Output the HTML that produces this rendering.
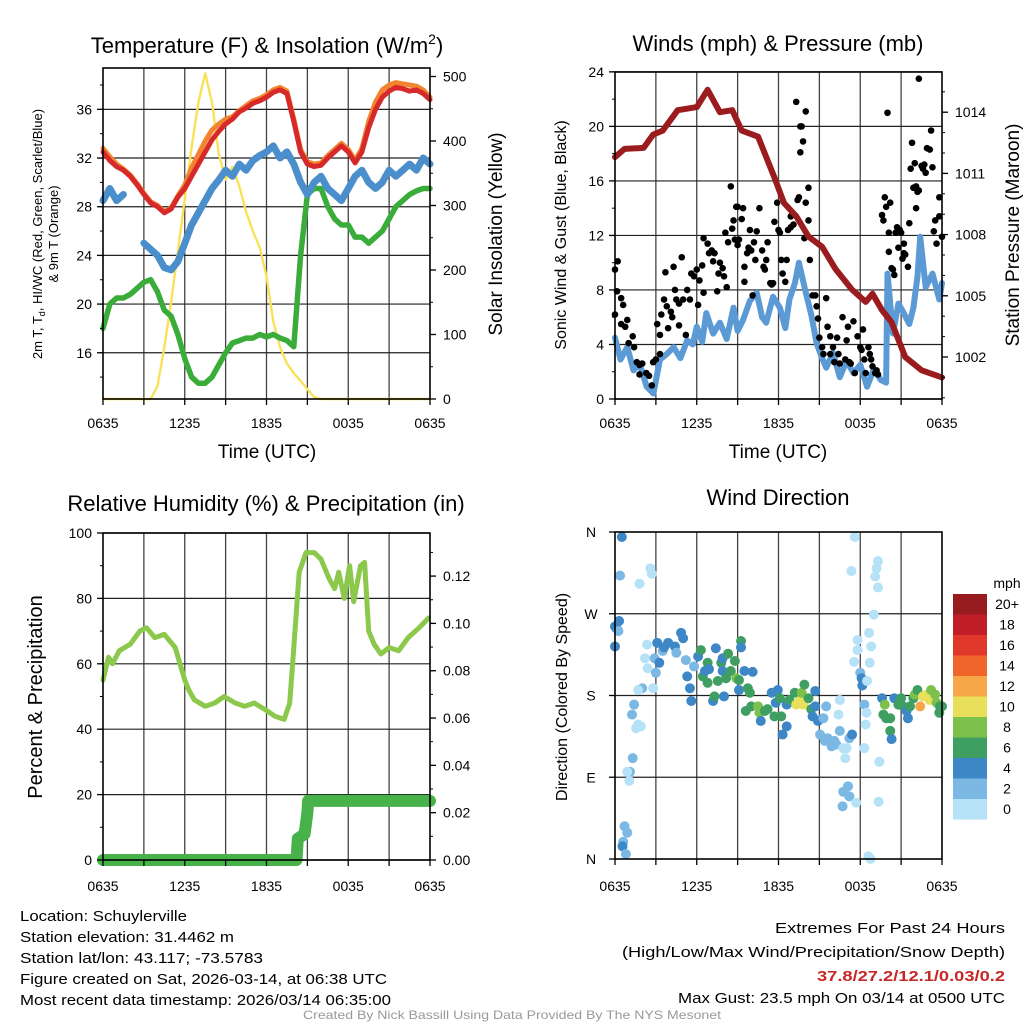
<!DOCTYPE html>
<html><head><meta charset="utf-8"><style>
html,body{margin:0;padding:0;background:#fff;}
svg{display:block;font-family:"Liberation Sans",Arial,sans-serif;}
</style></head><body>
<svg id="chart" width="1024" height="1024" viewBox="0 0 1024 1024" xmlns="http://www.w3.org/2000/svg">
<rect width="1024" height="1024" fill="#fff"/>
<g id="layer-grid"></g><g id="layer-data"></g><g id="layer-axes"></g>
<text x="267" y="53" font-size="22" text-anchor="middle">Temperature (F) &amp; Insolation (W/m<tspan font-size="14" dy="-9">2</tspan><tspan dy="9">)</tspan></text>
<text x="778" y="51" font-size="22" text-anchor="middle">Winds (mph) &amp; Pressure (mb)</text>
<text x="266" y="511" font-size="22" text-anchor="middle">Relative Humidity (%) &amp; Precipitation (in)</text>
<text x="778" y="505" font-size="22" text-anchor="middle">Wind Direction</text>
<text x="267" y="458" font-size="19" text-anchor="middle">Time (UTC)</text>
<text x="778" y="458" font-size="19" text-anchor="middle">Time (UTC)</text>
<text transform="translate(42,234) rotate(-90)" font-size="13" text-anchor="middle">2m T, T<tspan font-size="9" dy="3">d</tspan><tspan dy="-3">, HI/WC (Red, Green, Scarlet/Blue)</tspan></text>
<text transform="translate(58,234) rotate(-90)" font-size="13" text-anchor="middle">&amp; 9m T (Orange)</text>
<text transform="translate(502,234) rotate(-90)" font-size="19" text-anchor="middle">Solar Insolation (Yellow)</text>
<text transform="translate(566,235) rotate(-90)" font-size="16" text-anchor="middle">Sonic Wind &amp; Gust (Blue, Black)</text>
<text transform="translate(1019,235) rotate(-90)" font-size="19" text-anchor="middle">Station Pressure (Maroon)</text>
<text transform="translate(42,697) rotate(-90)" font-size="20" text-anchor="middle">Percent &amp; Precipitation</text>
<text transform="translate(567,697) rotate(-90)" font-size="16" text-anchor="middle">Direction (Colored By Speed)</text>
<text x="1007" y="588" font-size="14" text-anchor="middle">mph</text>
<g font-size="15">
<text x="20" y="921" textLength="167" lengthAdjust="spacingAndGlyphs">Location: Schuylerville</text>
<text x="20" y="942" textLength="214" lengthAdjust="spacingAndGlyphs">Station elevation: 31.4462 m</text>
<text x="20" y="963" textLength="243" lengthAdjust="spacingAndGlyphs">Station lat/lon: 43.117; -73.5783</text>
<text x="20" y="984" textLength="367" lengthAdjust="spacingAndGlyphs">Figure created on Sat, 2026-03-14, at 06:38 UTC</text>
<text x="20" y="1005" textLength="371" lengthAdjust="spacingAndGlyphs">Most recent data timestamp: 2026/03/14 06:35:00</text>
</g>
<g font-size="15" text-anchor="end">
<text x="1005" y="933" textLength="230" lengthAdjust="spacingAndGlyphs">Extremes For Past 24 Hours</text>
<text x="1005" y="957" textLength="383" lengthAdjust="spacingAndGlyphs">(High/Low/Max Wind/Precipitation/Snow Depth)</text>
<text x="1005" y="981" fill="#c62828" font-weight="bold" textLength="188" lengthAdjust="spacingAndGlyphs">37.8/27.2/12.1/0.03/0.2</text>
<text x="1005" y="1003" textLength="327" lengthAdjust="spacingAndGlyphs">Max Gust: 23.5 mph On 03/14 at 0500 UTC</text>
</g>
<text x="512" y="1019" font-size="12" fill="#999" text-anchor="middle" textLength="418" lengthAdjust="spacingAndGlyphs">Created By Nick Bassill Using Data Provided By The NYS Mesonet</text>
</svg>
<script>
// ===== DATA =====
const halfHours = [0,0.5,1,1.5,2,2.5,3,3.5,4,4.5,5,5.5,6,6.5,7,7.5,8,8.5,9,9.5,10,10.5,11,11.5,12,12.5,13,13.5,14,14.5,15,15.5,16,16.5,17,17.5,18,18.5,19,19.5,20,20.5,21,21.5,22,22.5,23,23.5,24];
const tempRed = [32.5,31.8,31.3,31,30.5,29.8,29,28.3,28,27.5,27.8,28.8,29.5,30.5,31.5,32.5,33.5,34.2,34.8,35.2,35.8,36.1,36.5,36.7,37,37.4,37.6,37.3,35,32.5,31.5,31.3,31.4,32,32.5,33,32.5,31.6,32.5,34.5,36,37,37.5,37.8,37.7,37.5,37.6,37.3,36.8];
const temp9mOrange = [32.8,32.1,31.5,31.1,30.6,29.9,29.1,28.4,28.1,27.6,27.9,28.9,29.8,31.2,32.3,33.4,34.3,34.8,35.2,35.4,35.9,36.3,36.7,36.9,37.2,37.6,37.8,37.5,35.2,32.7,31.7,31.5,31.6,32.2,32.7,33.2,32.7,31.8,32.8,35,36.6,37.6,38,38.2,38.1,38,37.9,37.6,37];
const windChillBlue = [28.5,29.5,28.5,29,null,null,25,24.5,24,23,22.8,23.5,25,26.5,27.5,28.5,29.5,30.2,31,30.5,31.5,31,31.8,32.2,32.5,33,32,32.5,31.5,30,29,30,30.5,29.5,29,28.5,29.5,30.5,31,30,29.5,30,31,30.5,31,31.5,31,32,31.5];
const dewpointGreen = [18,20,20.5,20.5,20.8,21.3,21.8,22,21,19.5,19,17.5,15.5,14,13.5,13.5,14,15,16,16.8,17,17.2,17.2,17.5,17.3,17.5,17.2,17,16.5,24,29,29.5,29.5,28,27,26.5,26.5,25.5,25.5,25,25.5,26,27,28,28.5,29,29.3,29.5,29.5];
const solarYellow = [0,0,0,0,0,0,0,0,20,80,150,230,310,390,460,505,460,380,340,360,330,290,260,235,190,120,80,55,40,28,15,3,0,0,0,0,0,0,0,0,0,0,0,0,0,0,0,0,0];

const windT = [0,0.4,0.9,1.36,1.8,2.33,2.82,3.3,3.8,4.3,4.8,5.3,5.7,6.0,6.4,6.7,7.2,7.7,8.2,8.7,9.0,9.4,9.9,10.4,10.8,11.1,11.6,12.1,12.5,12.8,13.2,13.5,14.0,14.4,14.8,15.2,15.5,16.0,16.5,17.0,17.5,18.0,18.5,19.0,19.5,19.9,20.0,20.4,20.8,21.2,21.6,21.9,22.2,22.4,22.8,23.3,23.8,24];
const windV = [4.5,2.9,3.8,2.1,2.6,0.9,0.4,2.9,3.3,3.8,3.0,4.3,4.0,5.3,4.2,6.3,4.8,5.6,4.4,6.7,5.0,5.8,7.2,7.8,6.0,5.6,7.5,6.7,5.2,7.3,8.5,10,7.8,6.2,4.1,3.0,2.3,3.4,1.6,2.8,1.9,2.5,0.9,2.2,1.4,1.2,9.2,4.8,7.0,6.3,5.5,6.7,9.0,11.9,8.2,9.2,7.3,8.5];
const presT = [0,0.7,2.1,2.8,3.5,4.6,6.0,6.8,7.7,8.6,9.3,10.5,11.7,12.4,13.3,14.2,15.2,16.2,17.4,18.4,18.9,19.6,20.3,21.3,22.5,24];
const presV = [1011.8,1012.2,1012.25,1012.9,1013.1,1014.1,1014.25,1015.1,1014.0,1014.1,1013.1,1012.8,1010.8,1009.55,1008.9,1007.9,1007.4,1006.3,1005.3,1004.7,1005.1,1004.3,1003.7,1002.0,1001.35,1001.0];
const gustT = [0,0.2,0,0.15,0.45,0.6,0.45,0.75,0.9,1.0,1.3,1.4,1.6,1.8,2.0,1.8,2.3,2.5,2.7,2.8,3.0,3.1,3.3,3.4,3.3,3.7,3.6,3.8,3.9,4.1,4.2,4.3,4.4,4.5,4.7,4.7,4.9,5.0,5.2,5.3,5.5,5.6,5.8,6.0,6.1,6.2,6.5,6.4,6.5,6.8,6.9,7.1,7.2,7.3,7.5,7.6,7.7,7.9,8.0,8.1,8.2,8.3,8.5,8.6,8.7,8.8,8.9,9.0,9.0,9.1,9.3,9.4,9.5,9.5,9.7,9.8,9.9,10.0,10.2,10.3,10.1,10.4,10.6,10.8,10.9,11.0,11.1,11.2,11.4,11.5,11.6,11.7,11.9,12.0,12.1,12.2,12.3,12.5,12.6,12.7,12.9,12.9,13.1,13.3,13.4,13.5,13.6,13.7,13.8,13.6,14.0,13.9,14.0,14.2,14.2,14.3,14.5,14.7,14.8,14.9,15.0,15.2,15.3,15.5,15.6,15.8,15.8,16.0,16.1,16.3,16.4,16.5,16.7,16.9,17.0,17.1,17.2,17.3,17.5,17.6,17.8,18.0,18.1,18.2,18.3,18.4,18.6,18.7,18.8,18.9,19.1,19.2,19.3,19.6,19.7,19.8,19.9,20.0,20.1,20.1,20.2,20.3,20.4,20.5,20.6,20.7,20.8,20.9,21.0,21.1,21.2,21.2,21.3,21.5,21.6,21.7,21.8,21.9,22.0,22.1,22.1,22.2,22.3,22.3,22.5,22.6,22.7,22.8,22.9,23.1,23.2,23.3,23.4,23.5,23.6,23.8,23.8,24.0];
const gustV = [9.5,10.1,6.2,7.9,7.4,6.9,5.5,5.3,5.8,4.1,4.6,3.8,2.7,2.5,2.6,1.8,1.9,1.7,1.0,2.7,2.9,5.5,4.7,6.2,3.3,9.3,7.3,6.8,5.2,6.4,6.0,9.7,8.0,7.3,5.4,7.0,10.4,7.3,4.7,8.0,7.3,9.2,9.0,9.5,6.9,8.7,7.8,9.8,11.8,11.4,10.7,10.9,10.1,10.7,7.9,9.2,10.0,9.6,9.0,12.2,8.2,11.5,15.6,12.5,13.1,11.7,14.1,14.1,11.3,11.7,13.2,14.0,9.7,8.6,10.7,11.1,12.4,10.9,11.5,10.2,7.6,12.3,14.0,10.9,9.7,9.5,10.2,11.5,8.5,8.4,8.5,13.0,14.4,12.4,12.2,10.2,9.2,8.6,10.2,12.4,12.6,13.4,12.8,21.8,14.6,14.8,20.0,20.0,18.9,18.1,21.1,11.8,14.4,15.5,13.1,10.2,7.6,7.6,6.8,5.9,4.5,3.8,3.3,7.4,5.3,4.6,3.3,3.8,2.7,4.5,3.3,2.6,6.0,2.9,4.3,5.3,2.7,2.6,5.7,1.9,4.6,3.8,3.6,5.1,2.9,1.9,3.8,3.3,2.9,2.4,1.9,2.1,1.8,13.5,13.1,14.8,14.1,21.0,12.2,10.8,14.4,9.6,9.5,9.1,12.2,12.6,11.1,12.4,12.2,10.3,11.4,10.7,10.6,9.7,12.9,16.9,18.8,15.5,17.3,14.0,15.6,15.2,15.3,23.5,17.1,16.9,17.2,16.6,18.4,18.3,19.7,17.0,12.3,13.1,11.4,13.4,14.8,11.9];

const rhT = [0,0.4,0.7,1.2,2,2.7,3.2,3.8,4.5,5.3,6,6.3,6.7,7.5,8.2,8.9,9.7,10.4,11.1,11.9,12.6,13.3,13.7,14,14.4,14.9,15.5,16,16.6,17,17.3,17.7,18.1,18.4,18.9,19.2,19.5,19.9,20.4,21,21.7,22.4,23.2,23.9];
const rhV = [55,62,60,64,66,70,71,68,69,65,55,52,49,47,48,50,48,47,48,46,44,43,48,65,88,94,94,92,86,83,88,80,90,79,90,91,70,66,63,65,64,68,71,74];
const precipT = [0,14.2,14.3,14.8,15.0,15.05,24];
const precipV = [0,0,0.009,0.011,0.020,0.025,0.025];

const dirT = [0.5,0.37,2.6,2.7,1.8,0,0.1,0.3,0.25,0,2.35,2.2,2.4,2.0,1.7,2.8,2.9,3.0,3.1,3.25,3.5,3.9,3.6,4.4,4.5,4.85,5.0,5.2,5.3,5.5,5.6,5.8,6.1,6.3,6.45,6.6,6.8,6.9,6.8,7.2,7.3,7.4,7.55,7.8,7.9,7.9,8.0,8.15,8.3,8.5,8.8,8.9,9.1,9.1,9.25,9.25,9.5,9.75,9.9,10.1,9.6,10.0,10.5,10.6,11.0,10.7,11.2,11.5,11.7,11.8,11.95,12.1,12.2,12.3,12.6,12.6,12.8,13.2,13.3,13.55,13.8,13.7,13.9,14.2,14.4,14.7,14.7,14.5,14.9,15.3,15.05,15.4,15.6,15.9,16.1,16.25,15.5,16.5,16.4,16.5,16.75,16.9,17.0,17.2,17.4,16.75,17.1,17.2,16.7,17.7,17.35,17.6,17.8,17.8,17.55,18.0,18.1,18.15,18.5,18.3,18.45,18.4,18.3,18.65,18.8,18.7,19.0,19.1,19.2,19.3,19.3,18.6,18.75,19.4,19.35,19.6,19.8,19.7,19.9,20.2,20.2,20.3,20.5,20.8,21.0,21.15,21.4,21.5,21.65,21.9,22.0,22.2,22.4,22.6,22.9,23.1,23.2,23.5,23.6,23.85,24,23.8,1.4,1.25,1.7,1.9,1.55,1.3,1.1,0.9,1.05,0.7,0.9,0.6,0.55,0.8];
const dirDeg = [354.5,312,320,314,303,256,254,262,251,234,236,221,210,188,186,188,221,205,238,216,229,238,233,234,227,249,243,219,201,188,174,212,223,230,201,207,216,209,194,174,179,232,196,216,221,207,179,199,226,207,218,199,197,186,240,233,207,188,183,206,163,168,168,161,163,152,165,183,157,172,186,177,157,137,146,170,175,183,170,174,170,183,192,177,165,185,168,157,152,155,137,130,133,124,130,126,168,175,159,141,122,111,122,133,137,74,80,69,58,62,317,354.5,241,230,217,205,199,191,196,170,161,148,122,249,234,216,269,311,320,328,299,3,0,107,63,177,170,159,155,155,141,132,177,170,177,168,163,155,168,177,181,186,168,179,181,175,186,181,172,168,168,161,170,159,148,146,144,111,96,96,86,36,29,19,14,5.5];
const dirSpd = [4,2,1,1,1,4,4,4,3,4,1,1,1,3,1,1,2,2,4,4,3,5,5,4,3,5,5,3,4,4,4,3,4,6,6,5,7,5,6,4,6,4,7,7,5,5,4,7,7,6,6,8,6,4,6,4,4,6,6,4,6,6,8,8,7,4,6,4,6,5,4,6,6,4,4,5,6,7,10,10,10,8,7,6,6,4,5,4,4,3,3,3,3,3,3,3,2,1,1,2,1,1,1,3,4,3,3,3,3,1,1,1,1,1,1,2,4,4,1,3,1,1,1,1,1,1,1,1,1,1,1,1,1,1,1,4,8,6,6,6,6,4,4,6,6,6,4,4,6,6,8,6,12,10,10,10,8,8,8,6,6,6,2,3,1,1,1,2,2,1,1,2,2,2,4,2];

const speedBins = ["0","2","4","6","8","10","12","14","16","18","20+"];
const binColors = ["#b5e2f7","#7bb8e4","#3e87c6","#3f9f62","#7cc14c","#e8e05b","#f7a747","#f06529","#e0392c","#c01f2a","#981b1f"];

const xTickLabels = ["0635","1235","1835","0035","0635"];
const tempTicks = [16,20,24,28,32,36];
const solarTicks = [0,100,200,300,400,500];
const windTicks = [0,4,8,12,16,20,24];
const presTicks = [1002,1005,1008,1011,1014];
const rhTicks = [0,20,40,60,80,100];
const precipTicks = [0,0.02,0.04,0.06,0.08,0.10,0.12];
const dirTicks = [0,90,180,270,360];
const dirLabels = ["N","E","S","W","N"];

// ===== AXES =====
const NS = "http://www.w3.org/2000/svg";
const gGrid = document.getElementById('layer-grid');
const gData = document.getElementById('layer-data');
const gAxes = document.getElementById('layer-axes');
function mk(parent, tag, attrs, name, inter) {
  const el = document.createElementNS(NS, tag);
  for (const k in attrs) el.setAttribute(k, attrs[k]);
  
  
  parent.appendChild(el);
  return el;
}
const P1 = {x0:103, x1:430, y0:68, y1:399};
const P2 = {x0:615, x1:942, y0:72, y1:399};
const P3 = {x0:103, x1:430, y0:533, y1:860};
const P4 = {x0:615, x1:942, y0:532, y1:859};
const xT = (P) => (t) => P.x0 + t * (P.x1 - P.x0) / 24;
const x1 = xT(P1), x2 = xT(P2), x3 = xT(P3), x4 = xT(P4);
const y1L = (v) => 399 - (v - 12.2) * 12.17;
const y1R = (w) => 399 - w * 0.645;
const y2L = (v) => 399 - v * 13.63;
const y2R = (p) => 357 - (p - 1002) * 20.4;
const y3L = (v) => 860 - v * 3.27;
const y3R = (p) => 860 - p * 2366;
const y4 = (d) => 859 - d * (327 / 360);

function pathFrom(ts, vs, xf, yf) {
  let d = "", pen = false;
  for (let i = 0; i < ts.length; i++) {
    if (vs[i] === null) { pen = false; continue; }
    d += (pen ? "L" : "M") + xf(ts[i]).toFixed(1) + "," + yf(vs[i]).toFixed(1);
    pen = true;
  }
  return d;
}

function frame(P, key, hTicks, yf, xLabY) {
  for (let h = 3; h < 24; h += 3) {
    mk(gGrid, 'line', {x1:xT(P)(h), x2:xT(P)(h), y1:P.y0, y2:P.y1, stroke:'#444', 'stroke-width':1.3}, key + '-vgrid', 'false');
  }
  hTicks.forEach(v => {
    mk(gGrid, 'line', {x1:P.x0, x2:P.x1, y1:yf(v), y2:yf(v), stroke:'#222', 'stroke-width':1.2}, key + '-hgrid', 'false');
  });
  mk(gAxes, 'rect', {x:P.x0, y:P.y0, width:P.x1 - P.x0, height:P.y1 - P.y0, fill:'none', stroke:'#000', 'stroke-width':1.6}, key + '-frame', 'false');
  for (let h = 0; h <= 24; h += 3) {
    mk(gAxes, 'line', {x1:xT(P)(h), x2:xT(P)(h), y1:P.y1, y2:P.y1 + 6, stroke:'#000', 'stroke-width':1.3}, key + '-xtick', 'false');
  }
  xTickLabels.forEach((lab, i) => {
    const t = mk(gAxes, 'text', {x:xT(P)(i * 6), y:xLabY, 'font-size':14, 'text-anchor':'middle'}, key + '-xtick-label', 'false');
    t.textContent = lab;
  });
}
function yTicks(P, key, ticks, yf, side, fmt, minorStep, lo, hi) {
  const xa = side === 'L' ? P.x0 : P.x1;
  ticks.forEach(v => {
    mk(gAxes, 'line', {x1:xa, x2:side === 'L' ? xa - 6 : xa + 6, y1:yf(v), y2:yf(v), stroke:'#000', 'stroke-width':1.3}, key + '-ytick', 'false');
    const t = mk(gAxes, 'text', {x:side === 'L' ? xa - 11 : xa + 13, y:yf(v) + 5, 'font-size':14, 'text-anchor':side === 'L' ? 'end' : 'start'}, key + '-ytick-label', 'false');
    t.textContent = fmt(v);
  });
  if (minorStep) {
    for (let v = lo; v <= hi + 1e-9; v += minorStep) {
      const y = yf(v);
      if (y < P.y0 - 0.5 || y > P.y1 + 0.5) continue;
      mk(gAxes, 'line', {x1:xa, x2:side === 'L' ? xa - 3 : xa + 3, y1:y, y2:y, stroke:'#000', 'stroke-width':1}, key + '-yminor', 'false');
    }
  }
}

// Panel 1
frame(P1, 'temp', tempTicks, y1L, 428);
yTicks(P1, 'temp-left', tempTicks, y1L, 'L', v => String(v), 2, 14, 38);
yTicks(P1, 'solar-right', solarTicks, y1R, 'R', v => String(v), 50, 0, 500);
mk(gData, 'path', {d:pathFrom(halfHours, solarYellow, x1, y1R), fill:'none', stroke:'#f9e25a', 'stroke-width':2.4, 'stroke-linejoin':'round'}, 'solar-insolation-line', 'false');
mk(gData, 'path', {d:pathFrom(halfHours, dewpointGreen, x1, y1L), fill:'none', stroke:'#3aac3a', 'stroke-width':5.5, 'stroke-linejoin':'round', 'stroke-linecap':'round'}, 'dewpoint-line', 'false');
mk(gData, 'path', {d:pathFrom(halfHours, windChillBlue, x1, y1L), fill:'none', stroke:'#4a8fcb', 'stroke-width':7, 'stroke-linejoin':'round', 'stroke-linecap':'round'}, 'wind-chill-line', 'false');
mk(gData, 'path', {d:pathFrom(halfHours, temp9mOrange, x1, y1L), fill:'none', stroke:'#f28430', 'stroke-width':5, 'stroke-linejoin':'round', 'stroke-linecap':'round'}, 'temp-9m-line', 'false');
mk(gData, 'path', {d:pathFrom(halfHours, tempRed, x1, y1L), fill:'none', stroke:'#d7282a', 'stroke-width':5, 'stroke-linejoin':'round', 'stroke-linecap':'round'}, 'temp-2m-line', 'false');

// Panel 2
frame(P2, 'wind', windTicks, y2L, 428);
yTicks(P2, 'wind-left', windTicks, y2L, 'L', v => String(v), 2, 0, 24);
yTicks(P2, 'pressure-right', presTicks, y2R, 'R', v => String(v), 1, 1000, 1015);
mk(gData, 'path', {d:pathFrom(windT, windV, x2, y2L), fill:'none', stroke:'#5b9ad5', 'stroke-width':6, 'stroke-linejoin':'round', 'stroke-linecap':'round'}, 'sonic-wind-line', 'false');
for (let i = 0; i < gustT.length; i++) {
  mk(gData, 'circle', {cx:x2(gustT[i]), cy:y2L(gustV[i]), r:3.3, fill:'#000'}, 'gust-point', 'false');
}
mk(gData, 'path', {d:pathFrom(presT, presV, x2, y2R), fill:'none', stroke:'#9b1c1f', 'stroke-width':6, 'stroke-linejoin':'round', 'stroke-linecap':'round'}, 'pressure-line', 'false');

// Panel 3
frame(P3, 'rh', rhTicks, y3L, 891);
yTicks(P3, 'rh-left', rhTicks, y3L, 'L', v => String(v), 10, 0, 100);
yTicks(P3, 'precip-right', precipTicks, y3R, 'R', v => v.toFixed(2), 0.01, 0, 0.13);
mk(gData, 'path', {d:pathFrom(rhT, rhV, x3, y3L), fill:'none', stroke:'#8cc84b', 'stroke-width':5, 'stroke-linejoin':'round', 'stroke-linecap':'round'}, 'rh-line', 'false');
mk(gData, 'path', {d:pathFrom(precipT, precipV, x3, y3R), fill:'none', stroke:'#46b249', 'stroke-width':12, 'stroke-linejoin':'round', 'stroke-linecap':'round'}, 'precip-line', 'false');

// Panel 4
frame(P4, 'dir', dirTicks.slice(1, 4), y4, 891);
dirTicks.forEach((d, i) => {
  mk(gAxes, 'line', {x1:P4.x0, x2:P4.x0 - 6, y1:y4(d), y2:y4(d), stroke:'#000', 'stroke-width':1.3}, 'dir-ytick', 'false');
  const t = mk(gAxes, 'text', {x:P4.x0 - 24, y:y4(d) + 5, 'font-size':14, 'text-anchor':'middle'}, 'dir-ytick-label', 'false');
  t.textContent = dirLabels[i];
});
for (let i = 0; i < dirT.length; i++) {
  const b = Math.min(10, Math.floor(dirSpd[i] / 2));
  mk(gData, 'circle', {cx:x4(dirT[i]), cy:y4(dirDeg[i]), r:5, fill:binColors[b]}, 'direction-point', 'false');
}
// Colorbar
speedBins.forEach((lab, i) => {
  const k = speedBins.length - 1 - i;
  const y = 594 + k * 20.5;
  mk(gAxes, 'rect', {x:953, y:y, width:34, height:20.5, fill:binColors[i]}, 'colorbar-bin', 'false');
  const t = mk(gAxes, 'text', {x:1007, y:y + 15, 'font-size':14, 'text-anchor':'middle'}, 'colorbar-label', 'false');
  t.textContent = lab;
});
</script>
</body></html>
